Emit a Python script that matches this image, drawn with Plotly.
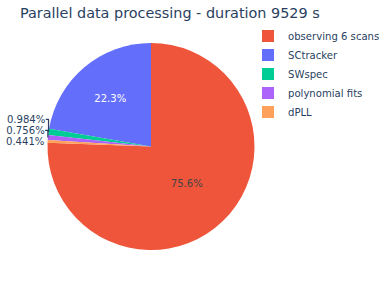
import plotly.graph_objects as go

labels = ["observing 6 scans", "SCtracker", "SWspec", "polynomial fits", "dPLL"]
durations = [7200, 2121.2, 93.8, 72, 42]
colors = ["#EF553B", "#636EFA", "#00CC96", "#AB63FA", "#FFA15A"]
total_duration = 9529

W, H = 390, 293


def fx(px):
    return px / W


def fy(py):
    return 1 - py / H


fig = go.Figure(
    go.Pie(
        labels=labels,
        values=durations,
        marker=dict(colors=colors),
        textinfo="percent",
        automargin=False,
        textfont=dict(size=10.1),
        domain=dict(x=[fx(47), fx(255)], y=[fy(250), fy(43)]),
    )
)

fig.update_layout(
    width=W,
    height=H,
    template="plotly",
    font=dict(family="DejaVu Sans", size=10.1, color="#2a3f5f"),
    title=dict(
        text=f"Parallel data processing - duration {total_duration} s",
        x=fx(20),
        xref="container",
        y=fy(12.5),
        yref="container",
        yanchor="middle",
        font=dict(size=14.4, family="DejaVu Sans"),
    ),
    margin=dict(l=0, r=0, t=0, b=0),
    legend=dict(font=dict(size=10.1), x=fx(248), xanchor="left",
                y=fy(74), yanchor="middle", bgcolor="rgba(0,0,0,0)"),
    paper_bgcolor="white",
)

fig.write_html(
    "out.html",
    config={"displayModeBar": False},
    post_script="document.body.style.margin='0';",
)
